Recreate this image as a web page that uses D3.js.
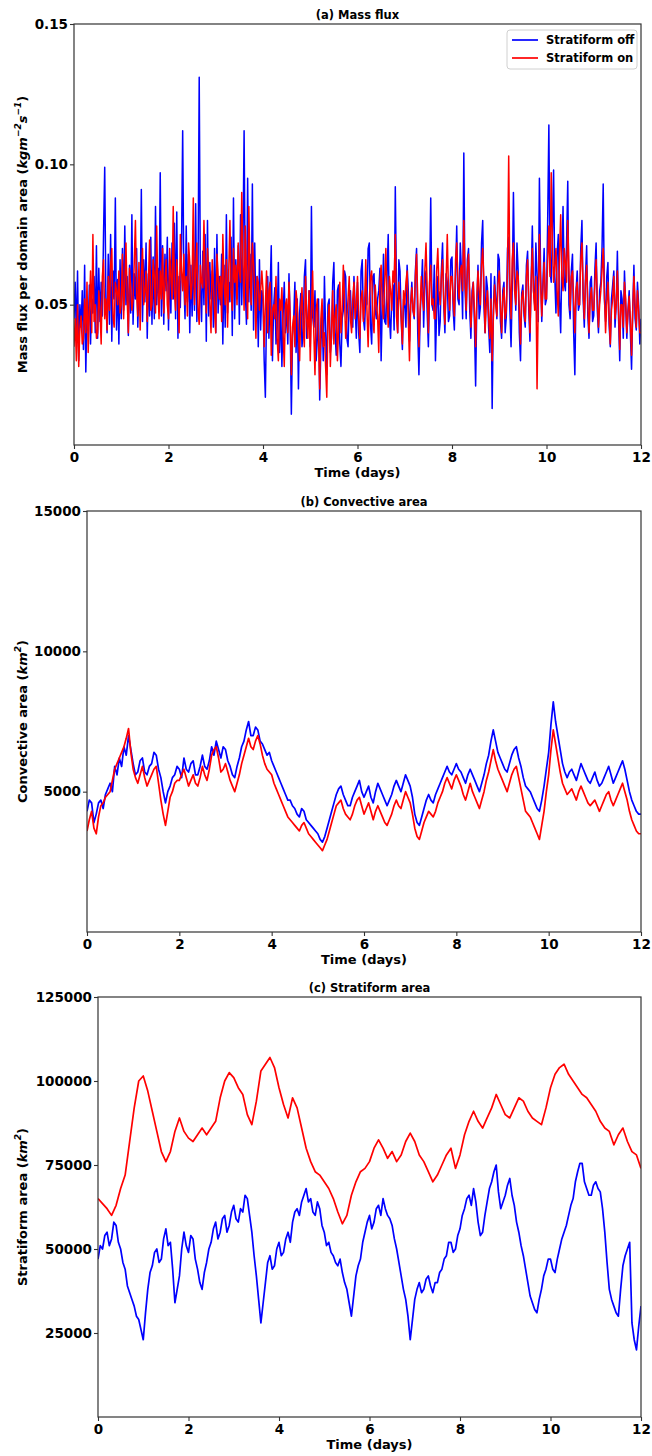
<!DOCTYPE html>
<html>
<head>
<meta charset="utf-8">
<script src="https://cdn.jsdelivr.net/npm/d3@7"></script>
<style>
  body { margin: 0; background: #fff; }
  text { font-family: "DejaVu Sans", sans-serif; font-weight: bold; fill: #000; }
</style>
</head>
<body>
<div id="canvas"></div>
<script>
const canvWidth = 652, canvHeight = 1456;

const svg = d3.select("#canvas").append("svg")
    .attr("width", canvWidth)
    .attr("height", canvHeight);

// time axis (days), shared by all panels
const dayTicks = [0, 2, 4, 6, 8, 10, 12];
const dayRange = [0, 12];

// (a) mass flux, one sample every 0.025 day
const fluxTicks = [0.05, 0.10, 0.15];
const fluxOff = [
  0.045,0.058,0.038,0.062,0.030,0.050,0.042,0.055,0.034,0.064,0.026,0.048,0.041,0.057,0.036,0.052,0.047,0.060,0.040,0.071,
  0.038,0.063,0.044,0.058,0.046,0.075,0.099,0.052,0.040,0.068,0.043,0.075,0.037,0.062,0.052,0.088,0.041,0.059,0.036,0.066,
  0.045,0.070,0.048,0.078,0.050,0.060,0.039,0.064,0.047,0.082,0.043,0.061,0.052,0.070,0.042,0.059,0.048,0.091,0.044,0.066,
  0.051,0.072,0.038,0.061,0.046,0.074,0.043,0.067,0.045,0.085,0.050,0.063,0.049,0.097,0.046,0.071,0.043,0.068,0.055,0.074,
  0.041,0.066,0.047,0.072,0.052,0.079,0.045,0.083,0.038,0.060,0.049,0.070,0.112,0.058,0.045,0.078,0.051,0.068,0.040,0.064,
  0.046,0.071,0.048,0.086,0.044,0.062,0.131,0.057,0.044,0.069,0.050,0.075,0.037,0.080,0.046,0.065,0.052,0.062,0.042,0.070,
  0.040,0.075,0.047,0.060,0.050,0.068,0.036,0.064,0.042,0.082,0.047,0.058,0.051,0.074,0.039,0.088,0.045,0.066,0.052,0.071,
  0.043,0.082,0.050,0.070,0.112,0.055,0.043,0.095,0.051,0.068,0.048,0.093,0.041,0.072,0.046,0.060,0.035,0.066,0.041,0.055,
  0.052,0.030,0.017,0.048,0.060,0.038,0.055,0.071,0.030,0.049,0.056,0.036,0.042,0.065,0.033,0.050,0.028,0.046,0.058,0.040,
  0.050,0.036,0.061,0.044,0.011,0.039,0.045,0.058,0.033,0.052,0.020,0.047,0.054,0.035,0.040,0.060,0.066,0.038,0.045,0.055,
  0.035,0.085,0.046,0.042,0.055,0.030,0.038,0.052,0.016,0.035,0.048,0.030,0.060,0.041,0.025,0.050,0.052,0.033,0.038,0.058,
  0.065,0.040,0.032,0.055,0.057,0.036,0.028,0.045,0.048,0.062,0.060,0.038,0.035,0.052,0.055,0.044,0.042,0.060,0.050,0.038,
  0.058,0.040,0.033,0.062,0.066,0.045,0.041,0.055,0.050,0.070,0.072,0.043,0.036,0.060,0.061,0.048,0.045,0.052,0.055,0.063,
  0.030,0.050,0.068,0.044,0.043,0.060,0.075,0.046,0.038,0.052,0.057,0.041,0.092,0.055,0.040,0.066,0.062,0.045,0.034,0.052,
  0.050,0.042,0.064,0.055,0.037,0.050,0.058,0.048,0.045,0.062,0.070,0.040,0.025,0.046,0.055,0.066,0.042,0.058,0.062,0.047,
  0.035,0.055,0.088,0.050,0.048,0.064,0.030,0.048,0.060,0.039,0.044,0.062,0.072,0.050,0.040,0.061,0.058,0.044,0.046,0.066,
  0.067,0.048,0.041,0.060,0.078,0.052,0.050,0.072,0.062,0.045,0.104,0.056,0.045,0.066,0.070,0.048,0.038,0.055,0.058,0.043,
  0.021,0.050,0.064,0.045,0.049,0.072,0.080,0.050,0.040,0.060,0.056,0.042,0.033,0.061,0.013,0.048,0.060,0.052,0.045,0.068,
  0.066,0.044,0.038,0.055,0.058,0.040,0.046,0.070,0.074,0.048,0.035,0.056,0.090,0.060,0.048,0.072,0.062,0.040,0.030,0.054,
  0.057,0.046,0.042,0.064,0.069,0.048,0.037,0.058,0.078,0.055,0.050,0.072,0.060,0.044,0.095,0.062,0.044,0.058,0.070,0.050,
  0.052,0.080,0.114,0.062,0.058,0.075,0.098,0.060,0.047,0.068,0.075,0.052,0.040,0.065,0.085,0.058,0.055,0.072,0.094,0.050,
  0.045,0.062,0.068,0.040,0.025,0.055,0.062,0.048,0.050,0.070,0.080,0.052,0.042,0.060,0.071,0.046,0.038,0.058,0.060,0.044,
  0.046,0.063,0.072,0.048,0.040,0.055,0.058,0.070,0.093,0.052,0.044,0.060,0.065,0.043,0.035,0.052,0.057,0.062,0.042,0.050,
  0.069,0.045,0.030,0.055,0.052,0.038,0.062,0.050,0.038,0.048,0.055,0.040,0.027,0.048,0.064,0.045,0.041,0.058,0.050,0.036,
  0.045
];
const fluxOn = [
  0.035,0.045,0.030,0.050,0.028,0.042,0.046,0.036,0.038,0.052,0.040,0.058,0.033,0.048,0.062,0.040,0.075,0.044,0.050,0.038,
  0.040,0.055,0.048,0.036,0.060,0.066,0.045,0.052,0.041,0.060,0.048,0.064,0.070,0.046,0.042,0.058,0.055,0.050,0.062,0.047,
  0.050,0.068,0.045,0.058,0.072,0.052,0.040,0.063,0.056,0.048,0.052,0.065,0.080,0.054,0.046,0.065,0.041,0.060,0.070,0.050,
  0.055,0.062,0.044,0.058,0.073,0.048,0.050,0.066,0.060,0.047,0.078,0.056,0.045,0.062,0.052,0.070,0.047,0.058,0.066,0.050,
  0.045,0.070,0.060,0.052,0.085,0.055,0.048,0.066,0.058,0.040,0.075,0.062,0.055,0.068,0.050,0.060,0.046,0.072,0.065,0.052,
  0.058,0.088,0.050,0.062,0.072,0.048,0.043,0.064,0.058,0.056,0.080,0.060,0.047,0.070,0.062,0.050,0.040,0.066,0.058,0.048,
  0.040,0.068,0.060,0.052,0.060,0.044,0.075,0.058,0.050,0.066,0.042,0.062,0.080,0.055,0.048,0.070,0.058,0.064,0.050,0.072,
  0.062,0.058,0.090,0.066,0.048,0.078,0.060,0.045,0.085,0.062,0.050,0.072,0.065,0.055,0.038,0.060,0.058,0.048,0.055,0.062,
  0.055,0.035,0.050,0.062,0.040,0.055,0.058,0.032,0.048,0.050,0.045,0.060,0.038,0.030,0.052,0.048,0.056,0.040,0.028,0.050,
  0.052,0.040,0.058,0.046,0.025,0.042,0.046,0.035,0.055,0.050,0.040,0.030,0.048,0.056,0.042,0.035,0.060,0.045,0.038,0.055,
  0.030,0.048,0.062,0.040,0.025,0.048,0.052,0.038,0.020,0.045,0.052,0.035,0.040,0.028,0.017,0.045,0.050,0.028,0.040,0.055,
  0.036,0.046,0.050,0.030,0.042,0.058,0.040,0.048,0.064,0.052,0.038,0.045,0.052,0.060,0.045,0.040,0.052,0.058,0.045,0.050,
  0.060,0.045,0.038,0.052,0.055,0.044,0.050,0.066,0.048,0.035,0.052,0.060,0.062,0.045,0.040,0.057,0.050,0.046,0.033,0.058,
  0.064,0.050,0.045,0.058,0.070,0.052,0.042,0.060,0.055,0.048,0.062,0.058,0.075,0.046,0.040,0.058,0.052,0.045,0.036,0.055,
  0.050,0.058,0.062,0.045,0.030,0.050,0.056,0.048,0.046,0.060,0.068,0.052,0.035,0.048,0.060,0.052,0.048,0.062,0.072,0.055,
  0.040,0.058,0.064,0.050,0.052,0.045,0.045,0.062,0.070,0.055,0.050,0.060,0.066,0.052,0.043,0.058,0.075,0.055,0.048,0.060,
  0.060,0.052,0.046,0.066,0.072,0.058,0.052,0.062,0.064,0.055,0.080,0.060,0.048,0.062,0.068,0.055,0.042,0.052,0.058,0.048,
  0.035,0.052,0.062,0.055,0.050,0.064,0.070,0.058,0.040,0.050,0.055,0.046,0.038,0.052,0.030,0.045,0.057,0.050,0.046,0.058,
  0.062,0.050,0.040,0.052,0.056,0.045,0.048,0.062,0.103,0.058,0.045,0.066,0.072,0.055,0.050,0.062,0.060,0.048,0.036,0.052,
  0.055,0.048,0.044,0.060,0.066,0.052,0.040,0.058,0.070,0.055,0.048,0.060,0.020,0.050,0.075,0.058,0.046,0.056,0.065,0.052,
  0.052,0.066,0.078,0.060,0.097,0.072,0.058,0.064,0.070,0.055,0.046,0.068,0.082,0.060,0.055,0.070,0.065,0.058,0.080,0.062,
  0.048,0.060,0.062,0.052,0.040,0.055,0.058,0.050,0.050,0.066,0.072,0.055,0.045,0.058,0.064,0.050,0.040,0.052,0.056,0.048,
  0.048,0.058,0.066,0.052,0.042,0.050,0.055,0.062,0.070,0.055,0.040,0.050,0.058,0.046,0.036,0.048,0.052,0.060,0.045,0.050,
  0.062,0.048,0.034,0.050,0.050,0.042,0.058,0.052,0.040,0.047,0.053,0.045,0.032,0.048,0.060,0.050,0.042,0.055,0.048,0.040,
  0.040
];

// (b) convective area (km2), one sample every 0.05 day
const convTicks = [5000, 10000, 15000];
const convOff = [
  4300,4700,4600,3900,4200,4600,4700,4400,4900,5100,5300,5000,5900,5600,6200,5900,6600,6300,7000,6500,
  6000,5600,5700,6100,6200,5700,5600,5900,6000,6400,6300,5800,5500,5000,4600,5000,5200,5500,5600,5900,
  5800,5500,6200,5800,5700,6000,6100,5600,5600,5900,6300,5900,5800,6100,6600,6300,6800,6500,6200,6600,
  6500,6100,5900,5600,5500,5900,6200,6600,6800,7200,7500,7000,7000,7300,7200,6800,6700,6500,6300,6400,
  6100,5900,5700,5500,5300,5100,4900,4700,4700,4500,4400,4200,4100,4400,4300,4000,3900,3800,3700,3600,
  3500,3300,3200,3400,3700,4000,4300,4600,4900,5100,5200,4900,4700,4500,4500,4800,5000,5200,5400,5000,
  4800,5000,5200,4800,4600,5000,5300,5100,4900,4700,4500,4700,4900,5200,5400,5200,5000,5300,5600,5400,
  5200,4800,4200,3900,3800,4100,4400,4700,4900,4700,4600,4900,5100,5300,5500,5700,5900,5700,5600,5800,
  6000,5800,5700,5500,5300,5600,5800,5600,5400,5200,5000,5300,5600,6000,6300,6800,7200,6800,6400,6200,
  6000,5800,5700,6000,6300,6500,6600,6200,5900,5500,5200,5100,5000,4800,4600,4400,4300,4700,5200,5800,
  6400,7400,8200,7500,7000,6500,6000,5700,5500,5700,5800,5600,5400,5700,6000,5800,5600,5400,5300,5500,
  5700,5400,5200,5300,5500,5700,5900,5600,5300,5500,5700,5900,6100,5800,5400,5000,4700,4500,4300,4200,
  4200
];
const convOn = [
  3600,4000,4300,3700,3500,4100,4500,4600,4800,4900,5000,5400,5800,6000,6200,6400,6600,6900,7250,6400,
  5800,5500,5300,5600,5900,5500,5200,5400,5600,5800,5900,5300,4700,4200,3800,4300,4800,5000,5300,5400,
  5400,5600,5800,5500,5200,5400,5600,5300,5200,5500,5900,5600,5400,5800,6300,6500,6600,6200,5700,5800,
  6000,5700,5400,5200,5000,5300,5600,6000,6300,6600,6900,6600,6500,6800,7000,6700,6300,6000,5800,5700,
  5600,5300,5100,4900,4700,4500,4300,4100,4000,3900,3800,3700,3600,3800,3900,3700,3500,3400,3300,3200,
  3100,3000,2900,3100,3300,3600,3900,4200,4500,4600,4700,4400,4200,4100,4000,4200,4500,4700,4800,4500,
  4200,4400,4600,4300,4000,4300,4500,4300,4100,3900,3800,4000,4200,4500,4700,4500,4400,4700,5000,4800,
  4600,4200,3700,3400,3300,3600,3900,4100,4300,4200,4100,4300,4600,4800,5000,5300,5500,5300,5100,5400,
  5600,5400,5200,4900,4700,5000,5300,5000,4800,4600,4400,4700,5000,5400,5700,6100,6500,6100,5800,5600,
  5400,5200,5000,5300,5600,5800,5900,5500,5100,4700,4300,4200,4100,3900,3700,3500,3300,3800,4300,5000,
  5600,6500,7200,6700,6200,5700,5300,5100,4900,5000,5100,4900,4700,5000,5200,5000,4800,4600,4500,4600,
  4700,4500,4300,4500,4700,4900,5000,4700,4500,4700,4900,5100,5300,5000,4700,4300,4000,3800,3600,3500,
  3500
];

// (c) stratiform area (km2); off: every 0.05 day, on: every 0.1 day
const stratTicks = [25000, 50000, 75000, 100000, 125000];
const stratOff = [
  47000,51000,50000,54000,55000,51000,53000,58000,57000,52000,50000,46000,44000,39000,37000,35000,33000,30000,29000,26000,
  23000,31000,38000,43000,45000,49000,50000,46000,47000,53000,56000,51000,52000,44000,34000,38000,42000,50000,55000,51000,
  49000,54000,53000,47000,44000,40000,38000,43000,46000,50000,52000,56000,58000,53000,55000,59000,60000,55000,57000,61000,
  63000,59000,58000,62000,61000,66000,65000,60000,55000,48000,42000,35000,28000,34000,40000,46000,48000,44000,45000,50000,
  52000,48000,49000,53000,55000,52000,58000,61000,62000,60000,64000,66000,68000,64000,65000,61000,60000,64000,62000,57000,
  55000,51000,52000,49000,48000,46000,45000,47000,43000,40000,38000,34000,30000,36000,42000,45000,47000,52000,55000,58000,
  60000,56000,58000,62000,63000,60000,65000,62000,60000,59000,57000,53000,50000,46000,42000,38000,35000,30000,23000,29000,
  35000,38000,40000,37000,38000,41000,42000,39000,37000,40000,40000,43000,44000,47000,48000,52000,52000,49000,50000,54000,
  56000,60000,62000,65000,66000,63000,68000,64000,58000,54000,55000,60000,64000,68000,70000,73000,75000,67000,62000,64000,
  66000,69000,71000,66000,63000,58000,55000,51000,48000,44000,40000,36000,34000,32000,31000,35000,38000,42000,44000,47000,
  47000,44000,43000,47000,50000,53000,55000,57000,60000,63000,65000,70000,73000,75500,75500,70000,68000,66000,66000,69000,
  70000,68000,67000,62000,55000,46000,38000,35000,33000,31000,30000,38000,45000,48000,50000,52000,28000,23000,20000,27000,
  33000
];
const stratOn = [
  65000,63500,62000,60000,63000,68000,72000,82000,92000,100000,
  101500,97000,91000,85000,79000,76000,79000,85000,89000,85000,
  83000,82000,84000,86000,84000,86000,88000,95000,100000,102500,
  101000,98000,96000,90000,87000,94000,103000,105000,107000,104000,
  98000,93000,89000,95000,92000,86000,80000,76000,73000,72000,
  70000,68000,65000,61000,57500,60000,66000,70000,73000,74000,
  76000,80000,82500,80000,77000,79000,76000,78000,82000,84500,
  82000,78000,76000,73000,70000,72000,75000,78000,80000,74000,
  78000,84000,88000,91000,88000,86000,89000,92000,96000,93000,
  90000,89000,92000,95000,94000,91000,89000,88000,87000,92000,
  98000,102000,104000,105000,102000,100000,98000,96000,95000,93000,
  91000,88000,86000,85000,81000,84000,86000,82000,79000,78000,74000
];

const seriesNames = ["Stratiform off", "Stratiform on"];
const seriesColors = ["#0000ff", "#ff0000"];

function drawPanel(p) {
    const x = d3.scaleLinear().domain(dayRange).range([p.left, p.right]);
    const y = d3.scaleLinear().domain(p.yDomain).range([p.bottom, p.top]);

    const g = svg.append("g");

    g.append("clipPath").attr("id", "clip-" + p.id)
        .append("rect")
        .attr("x", p.left).attr("y", p.top)
        .attr("width", p.right - p.left).attr("height", p.bottom - p.top);

    p.series.forEach(function (vals, k) {
        const n = vals.length;
        const line = d3.line()
            .x(function (d, i) { return x(dayRange[1] * i / (n - 1)); })
            .y(function (d) { return y(d); });
        g.append("path")
            .datum(vals)
            .attr("clip-path", "url(#clip-" + p.id + ")")
            .attr("fill", "none")
            .attr("stroke", seriesColors[k])
            .attr("stroke-width", p.lw)
            .attr("stroke-linejoin", "round")
            .attr("d", line);
    });

    // frame
    g.append("rect")
        .attr("x", p.left).attr("y", p.top)
        .attr("width", p.right - p.left).attr("height", p.bottom - p.top)
        .attr("fill", "none").attr("stroke", "#333").attr("stroke-width", 1.2);

    const xAxis = g.append("g")
        .attr("transform", "translate(0," + p.bottom + ")")
        .call(d3.axisBottom(x).tickValues(dayTicks).tickFormat(d3.format("d")).tickSizeOuter(0).tickSize(4).tickPadding(3));
    const yAxis = g.append("g")
        .attr("transform", "translate(" + p.left + ",0)")
        .call(d3.axisLeft(y).tickValues(p.yTicks).tickFormat(p.fmt).tickSizeOuter(0).tickSize(4).tickPadding(2));

    [xAxis, yAxis].forEach(function (a) {
        a.select(".domain").remove();
        a.selectAll("line").attr("stroke", "#333").attr("stroke-width", 1.1);
        a.selectAll("text").style("font-size", "13.5px").style("font-weight", "bold")
            .style("font-family", "'DejaVu Sans', sans-serif").attr("fill", "#000");
    });

    g.append("text")
        .attr("x", (p.left + p.right) / 2).attr("y", p.top - 5)
        .attr("text-anchor", "middle")
        .style("font-size", "11.5px")
        .text(p.title);

    g.append("text")
        .attr("x", (p.left + p.right) / 2).attr("y", p.bottom + 32)
        .attr("text-anchor", "middle")
        .style("font-size", "13px")
        .text("Time (days)");

    // y label sits just left of the tick labels, same x in every panel
    const yl = g.append("text")
        .attr("transform", "translate(27," + ((p.top + p.bottom) / 2) + ") rotate(-90)")
        .attr("text-anchor", "middle")
        .style("font-size", "13px");
    p.yLabel(yl);

    return g;
}

function supLabel(text, unit, sups) {
    return function (t) {
        t.append("tspan").text(text + " (");
        let lift = 0;
        unit.forEach(function (u, i) {
            t.append("tspan").attr("dy", lift).style("font-style", "italic").text(u);
            lift = 0;
            if (sups[i]) {
                t.append("tspan").attr("dy", -6).style("font-size", "9px").style("font-style", "italic").text(sups[i]);
                lift = 6;
            }
        });
        t.append("tspan").attr("dy", lift).text(")");
    };
}

drawPanel({
    id: "a", left: 74, right: 641, top: 24, bottom: 445, lw: 1.5,
    yDomain: [0, 0.15], yTicks: fluxTicks, fmt: d3.format(".2f"),
    series: [fluxOff, fluxOn],
    title: "(a) Mass flux",
    yLabel: supLabel("Mass flux per domain area", ["kgm", "s"], ["\u22122", "\u22121"])
});

drawPanel({
    id: "b", left: 87, right: 641, top: 511, bottom: 932, lw: 1.7,
    yDomain: [0, 15000], yTicks: convTicks, fmt: d3.format("d"),
    series: [convOff, convOn],
    title: "(b) Convective area",
    yLabel: supLabel("Convective area", ["km"], ["2"])
});

drawPanel({
    id: "c", left: 98, right: 641, top: 997, bottom: 1417, lw: 1.7,
    yDomain: [0, 125000], yTicks: stratTicks, fmt: d3.format("d"),
    series: [stratOff, stratOn],
    title: "(c) Stratiform area",
    yLabel: supLabel("Stratiform area", ["km"], ["2"])
});

// legend, panel (a) upper right
const legend = svg.append("g").attr("transform", "translate(507,30)");
legend.append("rect")
    .attr("width", 130).attr("height", 39).attr("rx", 3)
    .attr("fill", "#fff").attr("fill-opacity", 0.8)
    .attr("stroke", "#d0d0d0");
seriesNames.forEach(function (name, i) {
    legend.append("line")
        .attr("x1", 5).attr("x2", 31)
        .attr("y1", 10 + i * 18).attr("y2", 10 + i * 18)
        .attr("stroke", seriesColors[i]).attr("stroke-width", 1.7);
    legend.append("text")
        .attr("x", 39).attr("y", 14 + i * 18)
        .style("font-size", "11.5px")
        .text(name);
});
</script>
</body>
</html>
